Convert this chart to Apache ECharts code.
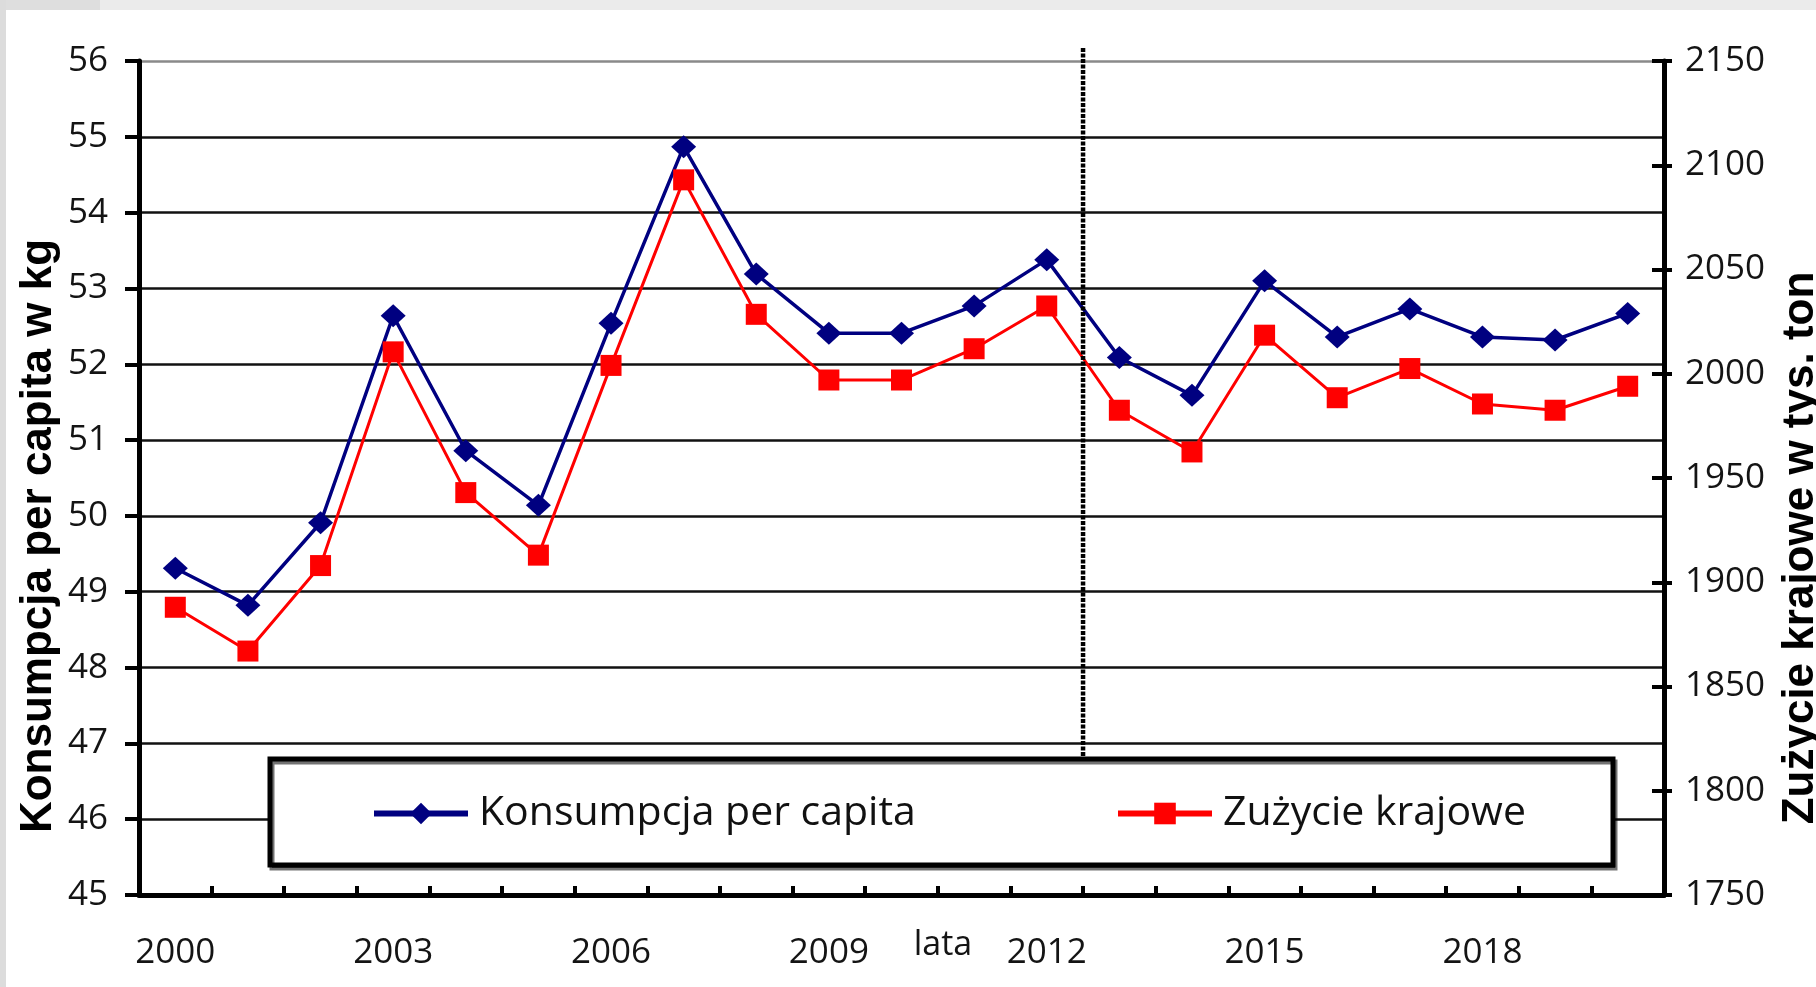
<!DOCTYPE html>
<html><head><meta charset="utf-8">
<script src="https://cdn.jsdelivr.net/npm/echarts@6/dist/echarts.min.js"></script>
<style>
html,body{margin:0;padding:0;background:#fff;overflow:hidden;}
#c{position:absolute;left:0;top:0;width:1816px;height:987px;}
#topband{position:absolute;left:0;top:0;width:1816px;height:10px;background:#ebebeb;z-index:5}
#topband2{position:absolute;left:0;top:0;width:100px;height:10px;background:#dedede;z-index:6}
#leftband{position:absolute;left:0;top:0;width:6px;height:987px;background:#dcdcdc;z-index:6}
</style></head><body>
<div id="c"></div><div id="topband"></div><div id="topband2"></div><div id="leftband"></div>
<script>
const years = ['2000','2001','2002','2003','2004','2005','2006','2007','2008','2009','2010',
               '2011','2012','2013','2014','2015','2016','2017','2018','2019','2020'];
const perCapita = [49.31, 48.82, 49.91, 52.64, 50.86, 50.14, 52.54, 54.87, 53.19, 52.41, 52.41,
                   52.77, 53.38, 52.09, 51.59, 53.10, 52.36, 52.73, 52.36, 52.32, 52.67];
const domestic = [1888, 1867, 1908, 2010.5, 1943, 1913, 2004, 2093, 2028.5, 1997, 1997,
                  2012, 2032.5, 1982.5, 1962.5, 2018.5, 1988.5, 2002.5, 1985.5, 1982.5, 1994];
const seriesNames = ['Konsumpcja per capita', 'Zużycie krajowe'];
const leftAxisRange = [45, 56, 1];
const rightAxisRange = [1750, 2150, 50];
const xAxisTitle = 'lata';
const leftAxisTitle = 'Konsumpcja per capita w kg';
const rightAxisTitle = 'Zużycie krajowe w tys. ton';
const dividerAfter = ['2012', '2013'];

const labelFont = {fontFamily: 'Open Sans', fontSize: 35, color: '#141414'};
const gridColors = ['#000','#111','#111','#111','#111','#111','#111','#111','#111','#111','#111','#8a8a8a'];

const chart = echarts.init(document.getElementById('c'), null, {renderer: 'canvas'});
const option = {
  animation: false,
  backgroundColor: '#fff',
  grid: {left: 139, right: 152, top: 61, bottom: 92, containLabel: false, outerBoundsMode: 'none'},
  xAxis: {
    type: 'category', data: years, boundaryGap: true,
    axisLine: {show: true, lineStyle: {color: '#000', width: 5}},
    axisTick: {show: true, inside: true, length: 9, interval: 0, lineStyle: {color: '#000', width: 4}},
    axisLabel: Object.assign({interval: 2, margin: 41}, labelFont),
    splitLine: {show: false},
    name: xAxisTitle, nameLocation: 'middle', nameGap: 33, nameMoveOverlap: false,
    nameTextStyle: {fontFamily: 'Open Sans', fontSize: 34, color: '#141414', padding: [0, 0, 0, 83]}
  },
  yAxis: [
    {
      type: 'value', position: 'left', min: leftAxisRange[0], max: leftAxisRange[1], interval: leftAxisRange[2],
      axisLine: {show: true, lineStyle: {color: '#000', width: 5}},
      axisTick: {show: true, length: 14, lineStyle: {color: '#000', width: 4}},
      axisLabel: Object.assign({margin: 31, formatter: v => String(v)}, labelFont),
      splitLine: {show: true, lineStyle: {color: gridColors, width: 2.5}},
      name: leftAxisTitle, nameLocation: 'middle', nameGap: 78, nameRotate: 90, nameMoveOverlap: false,
      nameTextStyle: {fontFamily: 'Liberation Sans', fontWeight: 'bold', fontSize: 44, color: '#000', padding: [0, 116, 0, 0]}
    },
    {
      type: 'value', position: 'right', min: rightAxisRange[0], max: rightAxisRange[1], interval: rightAxisRange[2],
      axisLine: {show: true, lineStyle: {color: '#000', width: 5}},
      axisTick: {show: true, length: 8, lineStyle: {color: '#000', width: 4}},
      axisLabel: Object.assign({margin: 21, formatter: v => String(v)}, labelFont),
      splitLine: {show: false},
      name: rightAxisTitle, nameLocation: 'middle', nameGap: 115, nameRotate: 90, nameMoveOverlap: false,
      nameTextStyle: {fontFamily: 'Liberation Sans', fontWeight: 'bold', fontSize: 44, color: '#000', padding: [0, 140, 0, 0]}
    },
    {
      type: 'value', position: 'right', min: rightAxisRange[0], max: rightAxisRange[1], interval: rightAxisRange[2],
      axisLine: {show: false},
      axisTick: {show: true, inside: true, length: 12, lineStyle: {color: '#000', width: 4}},
      axisLabel: {show: false},
      splitLine: {show: false}
    }
  ],
  legend: [
    {
      data: [seriesNames[0]], left: 371, top: 793, padding: 0, itemWidth: 94, itemHeight: 27,
      selectedMode: false, lineStyle: {width: 6},
      textStyle: {fontFamily: 'Open Sans', fontSize: 41, color: '#111', padding: [0, 0, 0, 6]}
    },
    {
      data: [seriesNames[1]], left: 1115, top: 793, padding: 0, itemWidth: 94, itemHeight: 27,
      selectedMode: false, lineStyle: {width: 6},
      textStyle: {fontFamily: 'Open Sans', fontSize: 41, color: '#111', padding: [0, 0, 0, 6]}
    }
  ],
  series: [
    {
      name: seriesNames[0], type: 'line', yAxisIndex: 0, data: perCapita,
      symbol: 'diamond', symbolSize: [25, 23], color: '#000080',
      lineStyle: {color: '#000080', width: 3.5}, itemStyle: {color: '#000080'}, z: 2
    },
    {
      name: seriesNames[1], type: 'line', yAxisIndex: 1, data: domestic,
      symbol: 'rect', symbolSize: 21, color: '#ff0000',
      lineStyle: {color: '#ff0000', width: 3}, itemStyle: {color: '#ff0000'}, z: 2
    }
  ],
  graphic: [
    {
      id: 'legendBox', type: 'rect', z: 3,
      shape: {x: 270, y: 759, width: 1343, height: 106},
      style: {fill: '#fff', stroke: '#000', lineWidth: 5, shadowColor: 'rgba(0,0,0,0.55)', shadowOffsetX: 2, shadowOffsetY: 3, shadowBlur: 0}
    }
  ]
};
chart.setOption(option);

const xa = chart.convertToPixel({xAxisIndex: 0}, dividerAfter[0]);
const xb = chart.convertToPixel({xAxisIndex: 0}, dividerAfter[1]);
const xDiv = (xa + xb) / 2;
chart.setOption({
  graphic: [
    {id: 'legendBox'},
    {
      id: 'divider', type: 'line', z: 3,
      shape: {x1: xDiv, y1: 48, x2: xDiv, y2: 757},
      style: {stroke: '#000', lineWidth: 4.5, lineDash: [4, 1.5]}
    }
  ]
});
</script>
</body></html>
